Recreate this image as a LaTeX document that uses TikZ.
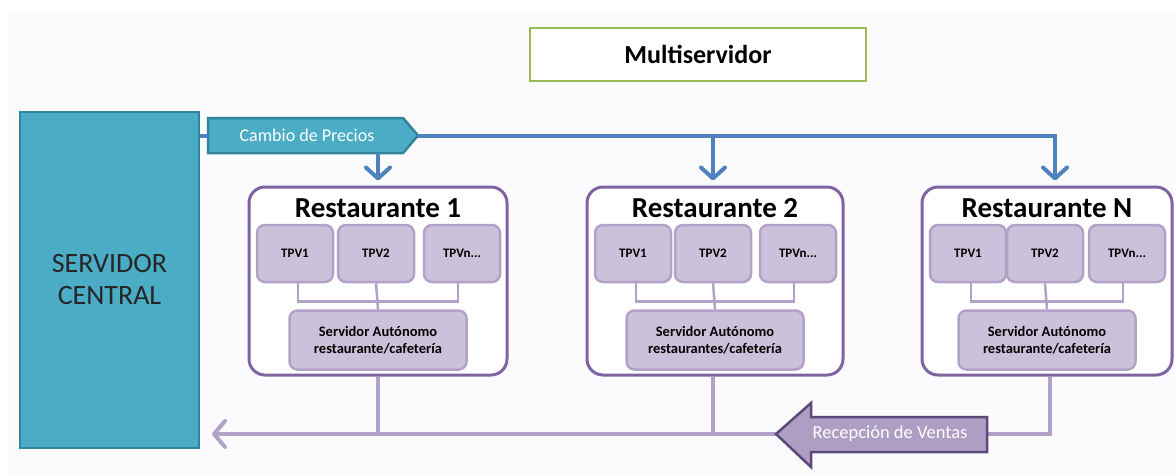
\documentclass[tikz,border=0pt]{standalone}
\usepackage{fontspec}
\setmainfont{Carlito}
\usetikzlibrary{arrows.meta,calc}
\definecolor{tealF}{HTML}{4BACC6}
\definecolor{tealD}{HTML}{31849B}
\definecolor{blueL}{HTML}{4F81BD}
\definecolor{purp}{HTML}{8064A2}
\definecolor{lpurp}{HTML}{CCC1DA}
\definecolor{mpurp}{HTML}{B3A2C7}
\definecolor{dpurp}{HTML}{5F497A}
\definecolor{grn}{HTML}{9BBB59}
\definecolor{bgc}{HTML}{FBFAFC}
\begin{document}
\begin{tikzpicture}[x=1pt,y=-1pt,
  restbox/.style={draw=purp,line width=3pt,fill=white,rounded corners=16pt,minimum height=188pt,inner sep=0pt},
  tpvbox/.style={draw=mpurp,line width=2.5pt,fill=lpurp,rounded corners=8pt,minimum width=76pt,minimum height=57pt,inner sep=0pt,font=\fontsize{13}{15}\selectfont\bfseries},
  servbox/.style={draw=mpurp,line width=2.5pt,fill=lpurp,rounded corners=8pt,minimum width=177pt,minimum height=59pt,inner sep=0pt,align=center,font=\fontsize{14.5}{16.5}\selectfont\bfseries},
  rtitle/.style={font=\fontsize{29}{33}\selectfont\bfseries,inner sep=0pt},
  tline/.style={draw=mpurp,line width=2.5pt},
  bline/.style={draw=blueL,line width=4pt},
  pline/.style={draw=mpurp,line width=4pt},
  bluetip/.style={-{Straight Barb[length=11pt,width=24pt,round]}},
]
\useasboundingbox (0,0) rectangle (1175,475);
\fill[bgc] (8,10) rectangle (1175,475);

% Multiservidor
\node[draw=grn,line width=2.5pt,fill=white,minimum width=336pt,minimum height=53pt,inner sep=0pt,
  font=\fontsize{26}{30}\selectfont\bfseries] (multi) at (698,54.5) {Multiservidor};

% Servidor central
\node[draw=tealD,line width=2.5pt,fill=tealF,minimum width=179pt,minimum height=336pt,inner sep=0pt,
  align=center,font=\fontsize{28}{32}\selectfont,text=black!85] (central) at (109.5,280) {SERVIDOR\\CENTRAL};

% Restaurants
\foreach \n/\L/\W/\T/\S in {1/249/258/Restaurante 1/restaurante, 2/587/256/Restaurante 2/restaurantes, N/922/250/Restaurante N/restaurante}{
  \node[restbox,minimum width=\W pt] (r\n) at ({\L+\W/2},281) {};
  \node[rtitle] (rt\n) at ({\L+\W/2},208) {\T};
  \node[tpvbox] (t\n a) at ({\L+46},253.5) {TPV1};
  \node[tpvbox] (t\n b) at ({\L+\W/2-2},253.5) {TPV2};
  \node[tpvbox] (t\n c) at ({\L+\W-45},253.5) {TPVn...};
  \node[servbox] (s\n) at ({\L+\W/2},340) {Servidor Autónomo\\\S/cafetería};
  \coordinate (j\n) at ($(t\n b.south)+(0,18)$);
  \draw[tline] ([xshift=3pt]t\n a.south) |- (j\n) -| ([xshift=-4pt]t\n c.south);
  \draw[tline] (t\n b.south) -- (s\n.north);
}

% Cambio de Precios
\coordinate (cambioL) at (208,135.5);
\coordinate (cambioTip) at (418,135.5);
\coordinate (cambioB) at (378,153);
\filldraw[fill=tealF,draw=tealD,line width=2.5pt,line join=miter]
  (208,118) -- (403,118) -- (cambioTip) -- (403,153) -- (208,153) -- cycle;
\node[text=white,font=\fontsize{18}{21}\selectfont] (cambio) at (307,135.5) {Cambio de Precios};

\draw[bline] (central.east |- cambioL) -- (cambioL);
\draw[bline,bluetip,shorten >=5pt] (cambioB) -- (cambioB |- r1.north);
\draw[bline,bluetip,shorten >=5pt] (cambioTip) -| ([xshift=8pt]rN.north);
\draw[bline,bluetip,shorten >=5pt] ([xshift=-2pt]r2.north |- cambioTip) -- ([xshift=-2pt]r2.north);

% Recepcion de ventas
\coordinate (recvL) at (212,434);
\draw[pline,-{Straight Barb[length=11pt,width=26pt,round]}] ([xshift=3pt]rN.south) |- (recvL);
\draw[pline] (r1.south) -- (r1.south |- recvL);
\draw[pline] ([xshift=-2pt]r2.south) -- ([xshift=-2pt]r2.south |- recvL);
\filldraw[fill=mpurp!95!dpurp,draw=dpurp,line width=2.5pt,line join=miter]
  (776,434) -- (811,403) -- (811,417) -- (987,417) -- (987,452) -- (811,452) -- (811,467) -- cycle;
\node[text=white,font=\fontsize{18.5}{21}\selectfont] (recv) at (890,434) {Recepción de Ventas};
\end{tikzpicture}
\end{document}
